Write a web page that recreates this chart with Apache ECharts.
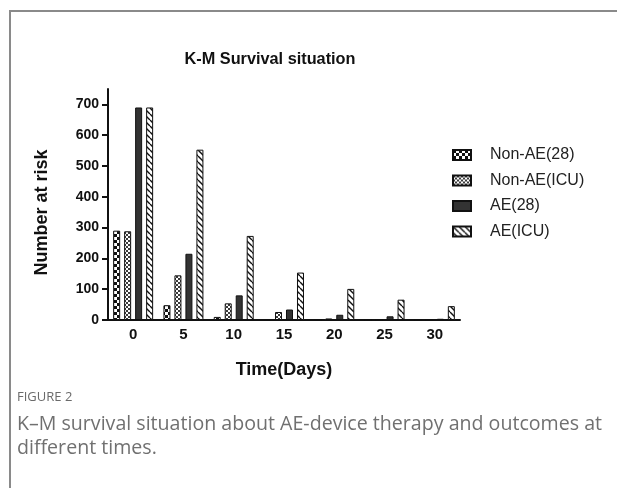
<!DOCTYPE html>
<html>
<head>
<meta charset="utf-8">
<script src="https://cdn.jsdelivr.net/npm/echarts@6/dist/echarts.min.js"></script>
<style>
  html, body { margin: 0; padding: 0; background: #fff; }
  #frame {
    position: absolute; left: 9px; top: 10px; width: 620px; height: 490px;
    border-top: 2px solid #8a8a8a; border-left: 2px solid #8a8a8a;
  }
  #chart { position: absolute; left: 0; top: 0; width: 617px; height: 488px; }
  #fig { position: absolute; left: 17px; top: 387px; font-family: "Open Sans", sans-serif;
    font-size: 13px; color: #6a6a6a; }
  #cap { position: absolute; left: 17px; top: 411px; width: 600px; font-family: "Open Sans", sans-serif;
    font-size: 19.6px; line-height: 24px; color: #707070; }
</style>
</head>
<body>
<div id="frame"></div>
<div id="chart"></div>
<div id="fig">FIGURE 2</div>
<div id="cap">K–M survival situation about AE-device therapy and outcomes at different times.</div>
<script>
// data
const days = ['0', '5', '10', '15', '20', '25', '30'];
const nonAE28 = [290, 48, 10, 0, 0, 0, 0];
const nonAEICU = [288, 145, 54, 26, 5, 0, 0];
const ae28 = [690, 215, 80, 34, 17, 12, 4];
const aeICU = [690, 553, 273, 154, 101, 66, 45];
const seriesNames = ['Non-AE(28)', 'Non-AE(ICU)', 'AE(28)', 'AE(ICU)'];
const yTicks = [0, 100, 200, 300, 400, 500, 600, 700];

// small canvas tiles used as bar fill patterns
function makePattern(size, draw) {
  const c = document.createElement('canvas');
  c.width = size; c.height = size;
  const ctx = c.getContext('2d');
  ctx.fillStyle = '#fff';
  ctx.fillRect(0, 0, size, size);
  draw(ctx, size);
  return { image: c, repeat: 'repeat' };
}

const checker = makePattern(6, (ctx) => {
  ctx.fillStyle = '#111';
  ctx.fillRect(0, 0, 3, 3);
  ctx.fillRect(3, 3, 3, 3);
});
const fineChecker = makePattern(4, (ctx) => {
  ctx.fillStyle = '#3a3a3a';
  ctx.fillRect(0, 0, 2, 2);
  ctx.fillRect(2, 2, 2, 2);
});
const diagonal = makePattern(6, (ctx, n) => {
  ctx.strokeStyle = '#111';
  ctx.lineWidth = 1.4;
  ctx.beginPath();
  [-n, 0, n].forEach((o) => {
    ctx.moveTo(o, 0);
    ctx.lineTo(o + n, n);
  });
  ctx.stroke();
});

const fills = [checker, fineChecker, '#333333', diagonal];
const values = [nonAE28, nonAEICU, ae28, aeICU];

const chart = echarts.init(document.getElementById('chart'));

const option = {
  animation: false,
  title: {
    text: 'K-M Survival situation',
    left: 265, top: 47,
    textAlign: 'center',
    textStyle: { fontFamily: 'Liberation Sans', fontWeight: 'bold', fontSize: 16.3, color: '#111' }
  },
  legend: {
    orient: 'vertical',
    left: 452, top: 147,
    padding: 0,
    icon: 'rect',
    itemWidth: 18, itemHeight: 10, itemGap: 9.5,
    data: seriesNames,
    textStyle: { fontFamily: 'Liberation Sans', fontSize: 16, color: '#222', padding: [0, 0, 0, 14] }
  },
  grid: { left: 108, right: 157, top: 89, bottom: 168, outerBoundsMode: 'none' },
  xAxis: {
    type: 'category',
    data: days,
    name: 'Time(Days)',
    nameLocation: 'middle',
    nameGap: 41,
    nameTextStyle: { fontFamily: 'Liberation Sans', fontWeight: 'bold', fontSize: 18, color: '#111' },
    axisLine: { lineStyle: { color: '#111', width: 2 } },
    axisTick: { alignWithLabel: true, length: 6, lineStyle: { color: '#111', width: 2 } },
    axisLabel: { fontFamily: 'Liberation Sans', fontWeight: 'bold', fontSize: 15, color: '#111', margin: 7 }
  },
  yAxis: {
    type: 'value',
    min: 0, max: 750, interval: 50,
    name: 'Number at risk',
    nameLocation: 'middle',
    nameGap: 57,
    nameTextStyle: { fontFamily: 'Liberation Sans', fontWeight: 'bold', fontSize: 18, color: '#111', padding: [0, 16, 0, 0] },
    splitLine: { show: false },
    axisLine: { show: true, lineStyle: { color: '#111', width: 2 } },
    axisTick: { show: true, length: 6, customValues: yTicks, lineStyle: { color: '#111', width: 2 } },
    axisLabel: { fontFamily: 'Liberation Sans', fontWeight: 'bold', fontSize: 14, color: '#111', margin: 9, customValues: yTicks }
  },
  series: seriesNames.map((name, i) => ({
    name: name,
    type: 'bar',
    data: values[i],
    barWidth: 7,
    barGap: '57%',
    itemStyle: { color: fills[i], borderColor: '#111', borderWidth: 1 }
  }))
};

chart.setOption(option);
</script>
</body>
</html>
